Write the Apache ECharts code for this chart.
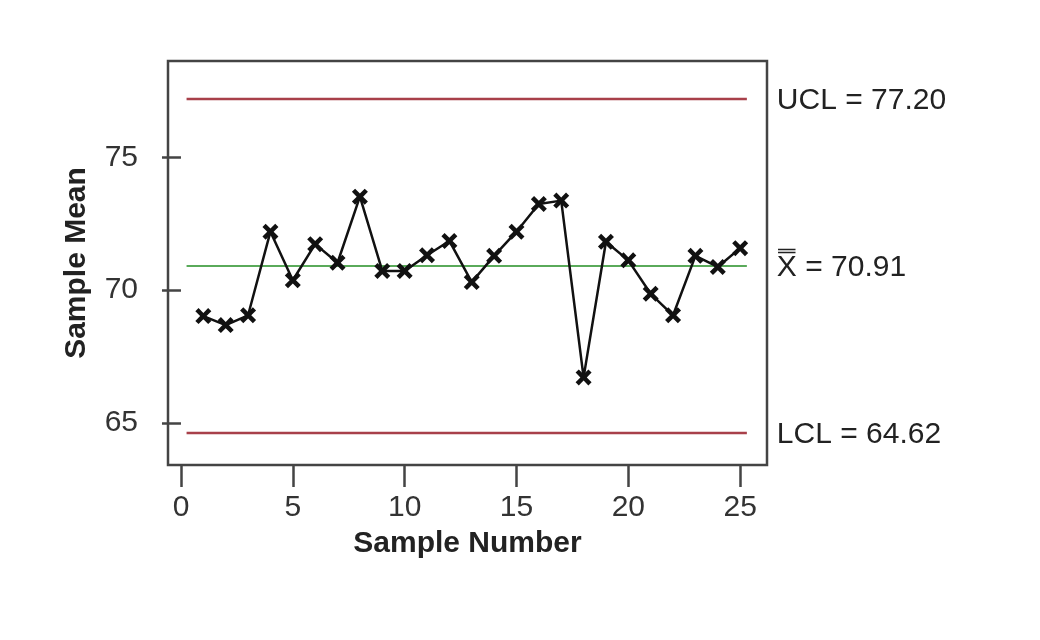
<!DOCTYPE html>
<html>
<head>
<meta charset="utf-8">
<script src="https://cdn.jsdelivr.net/npm/echarts@6/dist/echarts.min.js"></script>
<style>
html,body{margin:0;padding:0;background:#fff;}
#chart{width:1040px;height:640px;}
</style>
</head>
<body>
<div id="chart"></div>
<script>
const sampleNumbers = [1,2,3,4,5,6,7,8,9,10,11,12,13,14,15,16,17,18,19,20,21,22,23,24,25];
const sampleMeans = [69.02,68.68,69.05,72.20,70.37,71.73,71.03,73.52,70.72,70.72,71.31,71.85,70.30,71.29,72.20,73.24,73.37,66.71,71.82,71.12,69.86,69.05,71.29,70.87,71.58];
const ucl = 77.20;
const centerLine = 70.91;
const lcl = 64.62;
const limitSpan = [0.25, 25.3];
const xTicks = [0, 5, 10, 15, 20, 25];
const yTicks = [65, 70, 75];

const chart = echarts.init(document.getElementById('chart'));
const font = 'Liberation Sans, Arial, Helvetica, sans-serif';
const xMark = 'path://M2,0 L5,3 L8,0 L10,2 L7,5 L10,8 L8,10 L5,7 L2,10 L0,8 L3,5 L0,2 Z';

function limitSeries(value, color, width, text) {
  return {
    type: 'line',
    data: limitSpan.map(x => [x, value]),
    symbol: 'none',
    lineStyle: {color: color, width: width},
    silent: true,
    z: 1,
    endLabel: {
      show: true,
      formatter: text,
      distance: 30,
      offset: [0, 2],
      color: '#222',
      fontFamily: font,
      fontSize: 30
    }
  };
}

chart.setOption({
  backgroundColor: '#ffffff',
  animation: false,
  grid: {left: 168, top: 61, right: 273, bottom: 175, show: true, borderColor: '#444', borderWidth: 2.5, backgroundColor: '#fff'},
  xAxis: {
    type: 'value',
    min: -0.58,
    max: 26.2,
    name: 'Sample Number',
    nameLocation: 'middle',
    nameGap: 64,
    nameTextStyle: {fontFamily: font, fontSize: 30, fontWeight: 'bold', color: '#222'},
    axisLine: {show: false},
    splitLine: {show: false},
    axisTick: {show: true, length: 22, customValues: xTicks, lineStyle: {color: '#444', width: 2.5}},
    axisLabel: {customValues: xTicks, margin: 28, fontFamily: font, fontSize: 30, color: '#333'}
  },
  yAxis: {
    type: 'value',
    min: 63.41,
    max: 78.63,
    name: 'Sample Mean',
    nameLocation: 'middle',
    nameGap: 76,
    nameTextStyle: {fontFamily: font, fontSize: 30, fontWeight: 'bold', color: '#222'},
    axisLine: {show: false},
    splitLine: {show: false},
    axisTick: {show: true, length: 19, customValues: yTicks, lineStyle: {color: '#444', width: 2.5}},
    axisLabel: {customValues: yTicks, margin: 30, fontFamily: font, fontSize: 30, color: '#333'}
  },
  series: [
    limitSeries(ucl, '#a8404a', 2.5, 'UCL = ' + ucl.toFixed(2)),
    limitSeries(centerLine, '#5aaa5a', 2, 'X\u033F = ' + centerLine.toFixed(2)),
    limitSeries(lcl, '#a8404a', 2.5, 'LCL = ' + lcl.toFixed(2)),
    {
      type: 'line',
      data: sampleNumbers.map((n, i) => [n, sampleMeans[i]]),
      symbol: xMark,
      symbolSize: 16,
      itemStyle: {color: '#111'},
      lineStyle: {color: '#111', width: 2.5},
      z: 5
    }
  ]
});
</script>
</body>
</html>
